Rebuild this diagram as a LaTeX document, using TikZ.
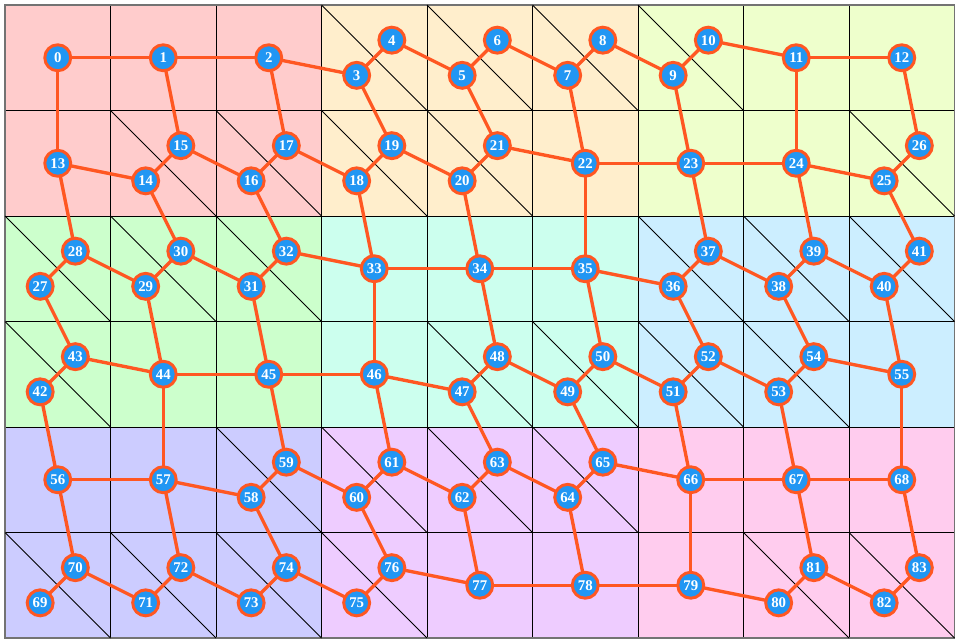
\documentclass[tikz,border=0pt]{standalone}
\usepackage{fontspec}
\setmainfont{Liberation Serif}
\definecolor{linkorange}{HTML}{FF5722}
\definecolor{vertexblue}{HTML}{2196F3}
\definecolor{blockred}{HTML}{FFCCCC}
\definecolor{blockorange}{HTML}{FFEECC}
\definecolor{blockyellow}{HTML}{EEFFCC}
\definecolor{blockgreen}{HTML}{CCFFCC}
\definecolor{blockmint}{HTML}{CCFFEE}
\definecolor{blocksky}{HTML}{CCEEFF}
\definecolor{blockblue}{HTML}{CCCCFF}
\definecolor{blockviolet}{HTML}{EECCFF}
\definecolor{blockpink}{HTML}{FFCCEE}
\newcount\vtxnum
\tikzset{
  gridline/.style={
    draw=black,
    line width=0.5pt
  },
  frameline/.style={
    draw=black!55,
    line width=0.8pt
  },
  diagline/.style={
    draw=black,
    line width=0.45pt
  },
  vertex/.style={
    circle,
    fill=vertexblue,
    draw=linkorange,
    line width=1.6pt,
    minimum size=14pt,
    inner sep=0pt,
    outer sep=0pt,
    text=white,
    font=\fontsize{8}{9}\selectfont\bfseries
  },
  link/.style={
    draw=linkorange,
    line width=1.8pt
  }
}

\begin{document}
\begin{tikzpicture}[x=2cm,y=-2cm]
  \useasboundingbox (-0.0474,-0.0474) rectangle (9.0521,6.0474);

  \foreach \bx/\by/\tint in {0/0/blockred,3/0/blockorange,6/0/blockyellow,
                             0/2/blockgreen,3/2/blockmint,6/2/blocksky,
                             0/4/blockblue,3/4/blockviolet,6/4/blockpink}
    \fill[\tint] (\bx,\by) rectangle ++(3,2);
  \foreach \i in {1,...,8}
    \draw[gridline] (\i,0) -- (\i,6);
  \foreach \j in {1,...,5}
    \draw[gridline] (0,\j) -- (9,\j);
  \draw[frameline] (0,0) rectangle (9,6);

  % 1 = cell cut in two triangles
  \vtxnum=0
  \foreach \r/\flags in {0/{0,0,0,1,1,1,1,0,0},
                         1/{0,1,1,1,1,0,0,0,1},
                         2/{1,1,1,0,0,0,1,1,1},
                         3/{1,0,0,0,1,1,1,1,0},
                         4/{0,0,1,1,1,1,0,0,0},
                         5/{1,1,1,1,0,0,0,1,1}}{
    \foreach \f [count=\c from 0] in \flags {
      \ifnum\f=1
        \draw[diagline] (\c,\r) -- ++(1,1);
        \edef\k{\the\vtxnum}
        \node[vertex] (n\k) at (\c+1/3,\r+2/3) {\k};
        \global\advance\vtxnum by 1
        \edef\k{\the\vtxnum}
        \node[vertex] (n\k) at (\c+2/3,\r+1/3) {\k};
        \global\advance\vtxnum by 1
      \else
        \edef\k{\the\vtxnum}
        \node[vertex] (n\k) at (\c+.5,\r+.5) {\k};
        \global\advance\vtxnum by 1
      \fi
    }
  }

  \foreach \s/\e in {0/11,13/25,27/40,42/54,56/67,69/82}
    \foreach \a in {\s,...,\e}{
      \pgfmathtruncatemacro\b{\a+1}
      \draw[link] (n\a) -- (n\b);
    }
  \foreach \a/\b in {0/13,1/15,2/17,3/19,5/21,7/22,9/23,11/24,12/26,
                     13/28,14/30,16/32,18/33,20/34,22/35,23/37,24/39,25/41,
                     27/43,29/44,31/45,33/46,34/48,35/50,36/52,38/54,40/55,
                     42/56,44/57,45/59,46/61,47/63,49/65,51/66,53/67,55/68,
                     56/70,57/72,58/74,60/76,62/77,64/78,66/79,67/81,68/83}
    \draw[link] (n\a) -- (n\b);
\end{tikzpicture}
\end{document}
